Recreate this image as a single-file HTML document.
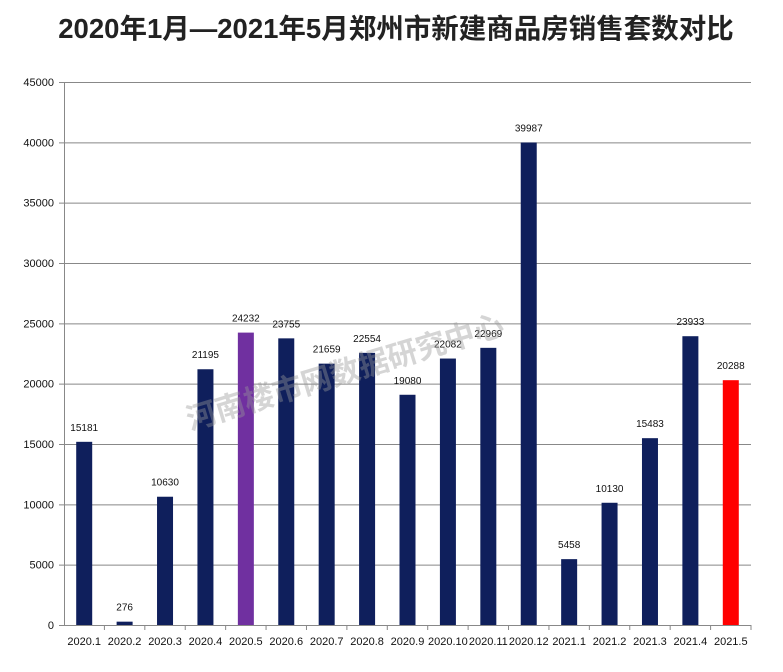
<!DOCTYPE html><html><head><meta charset="utf-8"><style>body{margin:0;background:#fff}svg{display:block}</style></head><body>
<svg width="783" height="672" xmlns="http://www.w3.org/2000/svg" font-family="Liberation Sans, Noto Sans CJK SC, sans-serif">
<rect width="783" height="672" fill="#fff"/>
<text x="396" y="38" text-anchor="middle" font-size="27.5" font-weight="bold" fill="#222" font-family="Liberation Sans, Noto Sans CJK SC, sans-serif">2020年1月—2021年5月郑州市新建商品房销售套数对比</text>
<g id="grid" stroke="#888" stroke-width="1"></g>
<g id="bars"></g>
<text x="348" y="382" text-anchor="middle" font-size="30" font-weight="bold" fill="#999" opacity="0.4" transform="rotate(-17 348 382)">河南楼市网数据研究中心</text>
<script>
var g=document.getElementById('grid'),b=document.getElementById('bars'),ns='http://www.w3.org/2000/svg';
function el(p,t,a,txt){var e=document.createElementNS(ns,t);for(var k in a)e.setAttribute(k,a[k]);if(txt!=null)e.textContent=txt;p.appendChild(e);return e;}
var y0=625,s=543/45000;
for(var v=0;v<=45000;v+=5000){var y=y0-v*s;el(g,'line',{x1:59,x2:751,y1:y+.5,y2:y+.5});el(b,'text',{x:54,y:y+4,'text-anchor':'end','font-size':11,fill:'#111'},v);}
el(g,'line',{x1:64.5,x2:64.5,y1:82,y2:625});
var d=[15181,276,10630,21195,24232,23755,21659,22554,19080,22082,22969,39987,5458,10130,15483,23933,20288];
var L=['2020.1','2020.2','2020.3','2020.4','2020.5','2020.6','2020.7','2020.8','2020.9','2020.10','2020.11','2020.12','2021.1','2021.2','2021.3','2021.4','2021.5'];
var w=(751-64)/17;
for(var i=0;i<17;i++){var cx=64+w*(i+.5),h=d[i]*s;var c=i==4?'#7030a0':(i==16?'#ff0000':'#0f1f5c');
el(b,'rect',{x:cx-8,y:y0-h,width:16,height:h,fill:c});
el(b,'text',{x:cx,y:y0-h-11,'text-anchor':'middle','font-size':10,fill:'#111'},d[i]);
el(b,'text',{x:cx,y:645,'text-anchor':'middle','font-size':11,fill:'#111'},L[i]);
el(g,'line',{x1:64+w*(i+1),x2:64+w*(i+1),y1:625,y2:630});}
</script>
</svg></body></html>
